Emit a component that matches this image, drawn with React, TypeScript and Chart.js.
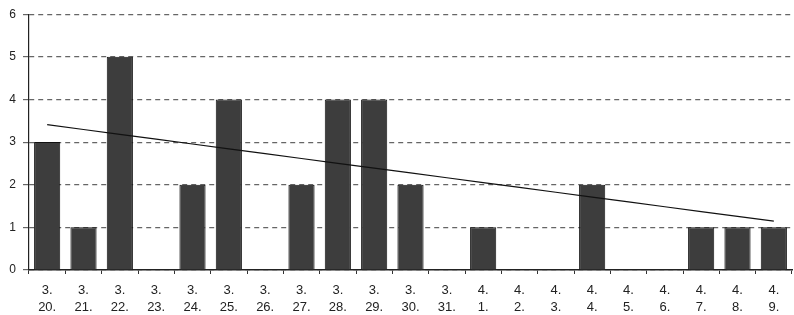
import React, { useEffect, useRef } from "react";
import { Chart, registerables } from "chart.js";

Chart.register(...registerables);

const months = ["3.", "3.", "3.", "3.", "3.", "3.", "3.", "3.", "3.", "3.", "3.", "3.", "4.", "4.", "4.", "4.", "4.", "4.", "4.", "4.", "4."];
const days = ["20.", "21.", "22.", "23.", "24.", "25.", "26.", "27.", "28.", "29.", "30.", "31.", "1.", "2.", "3.", "4.", "5.", "6.", "7.", "8.", "9."];
// null = no entry for that day (blank cell)
const counts: (number | null)[] = [3, 1, 5, null, 2, 4, null, 2, 4, 4, 2, null, 1, null, null, 2, null, null, 1, 1, 1];
const yTicks = [0, 1, 2, 3, 4, 5, 6];

// linear trend over days that have an entry
function trend(vals: (number | null)[]): number[] {
  const pts = vals.map((v, i) => [i, v] as [number, number | null]).filter((p) => p[1] !== null) as [number, number][];
  const n = pts.length;
  const mx = pts.reduce((s, p) => s + p[0], 0) / n;
  const my = pts.reduce((s, p) => s + p[1], 0) / n;
  let sxy = 0, sxx = 0;
  pts.forEach(([x, y]) => { sxy += (x - mx) * (y - my); sxx += (x - mx) * (x - mx); });
  const b = sxy / sxx;
  const a = my - b * mx;
  return vals.map((_, i) => a + b * i);
}

export default function App() {
  const ref = useRef<HTMLCanvasElement | null>(null);
  useEffect(() => {
    if (!ref.current) return;
    const labels = months.map((m, i) => [m, days[i]]);
    const chart = new Chart(ref.current, {
      type: "bar",
      data: {
        labels,
        datasets: [
          {
            type: "line",
            data: trend(counts),
            borderColor: "#111",
            borderWidth: 1.2,
            pointRadius: 0,
            fill: false,
            order: 0,
          } as any,
          {
            type: "bar",
            data: counts as any,
            backgroundColor: "#3d3d3d",
            borderColor: "#111",
            borderWidth: 1,
            barPercentage: 0.72,
            categoryPercentage: 1,
            order: 1,
          },
        ],
      },
      options: {
        animation: false,
        responsive: false,
        maintainAspectRatio: false,
        layout: { padding: { top: 7, right: 2, left: 0, bottom: 0 } },
        plugins: { legend: { display: false }, tooltip: { enabled: false } },
        scales: {
          x: {
            offset: true,
            grid: {
              offset: true,
              drawOnChartArea: false,
              drawTicks: true,
              tickLength: 4,
              color: "#333",
            },
            border: { color: "#222", width: 1.6 },
            ticks: {
              color: "#222",
              font: { family: "'Liberation Sans', Arial, sans-serif", size: 13, lineHeight: 1.3 },
              padding: 8,
              maxRotation: 0,
              autoSkip: false,
            },
            afterFit: (s: any) => { s.height = 45; },
          },
          y: {
            min: 0,
            max: 6,
            afterBuildTicks: (s: any) => { s.ticks = yTicks.map((v) => ({ value: v })); },
            grid: {
              color: "#666",
              lineWidth: 1.2,
              tickLength: 6,
              drawTicks: true,
            },
            border: { color: "#222", width: 1.2, dash: [5, 4] },
            ticks: {
              color: "#222",
              font: { family: "'Liberation Sans', Arial, sans-serif", size: 12 },
              padding: 7,
            },
            afterFit: (s: any) => { s.width = 29; },
          },
        },
      },
    });
    return () => chart.destroy();
  }, []);
  return (
    <div style={{ position: "absolute", left: 0, top: 0, width: 794, height: 315, background: "#fff" }}>
      <canvas ref={ref} width={794} height={315} />
    </div>
  );
}
